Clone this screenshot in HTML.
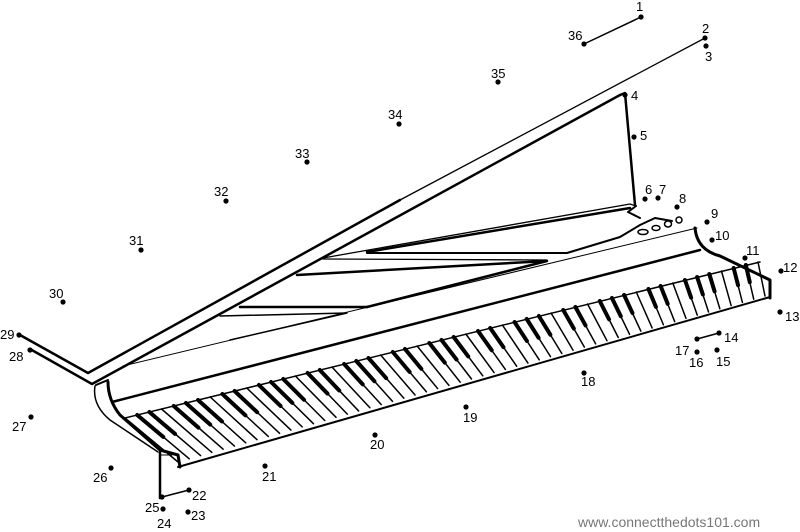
<!DOCTYPE html>
<html><head><meta charset="utf-8"><style>
html,body{margin:0;padding:0;background:#fff;}
svg{display:block}
text{font-family:"Liberation Sans",sans-serif;font-size:13px;fill:#000}
</style></head><body>
<svg id="s" width="800" height="532" viewBox="0 0 800 532" xmlns="http://www.w3.org/2000/svg">
<g fill="none" stroke="#000" stroke-linejoin="round" stroke-linecap="round">
<!-- lid -->
<path d="M20,335 L88,373 L400,200" stroke-width="2.5"/>
<path d="M400,200 L705,38" stroke-width="1.3"/>
<path d="M30,349 L92,384 L620,95" stroke-width="2.5"/>
<path d="M620,95 L625,93 L635,205" stroke-width="2.5"/>
<!-- music stand -->
<path d="M323,258 L630,204 L636,206" stroke-width="1.3"/>
<path d="M367,252 L630,208" stroke-width="2.5"/>
<path d="M367,253 L567,253 L620,237 L640,225 L655,218 L672,221" stroke-width="2"/>
<path d="M636,206 L628,212 L640,218" stroke-width="2"/>
<path d="M323,259 L547,260" stroke-width="1.3"/>
<path d="M297,275 L547,261 L367,307" stroke-width="2.5"/>
<path d="M240,307 L367,307" stroke-width="2.5"/>
<path d="M220,316 L347,313 L230,340" stroke-width="1.5"/>
<path d="M123,366 L697,228" stroke-width="1"/>
<ellipse cx="643" cy="232" rx="5" ry="2.5" stroke-width="1.5"/>
<ellipse cx="656" cy="228" rx="4" ry="2.5" stroke-width="1.5"/>
<ellipse cx="668" cy="224" rx="3.5" ry="3" stroke-width="1.5"/>
<ellipse cx="679" cy="220" rx="3" ry="3" stroke-width="1.5"/>
<!-- body rail -->
<path d="M96,385 L108,380" stroke-width="2"/>
<path d="M112,402 L700,250" stroke-width="2.5"/>
<path d="M125,418 L760,262" stroke-width="1.5"/>
<path d="M695,228 Q697,250 720,256 L770,280 L770,298" stroke-width="3"/>
<path d="M178,467 L770,297" stroke-width="2"/>
<path d="M108,382 Q108,400 120,415 L160,450 L178,455 L180,467" stroke-width="3"/>
<path d="M95,386 Q92,405 110,420 L158,452" stroke-width="1.5"/>
<path d="M160,452 L160,498" stroke-width="2.5"/>
<path d="M160,455 L172,455" stroke-width="1"/>
<g id="keys" stroke-width="1.5"></g>
<!-- dot lines -->
<path d="M584,44 L641,17" stroke-width="1.5"/>
<path d="M697,339 L719,333" stroke-width="1.5"/>
<path d="M162,497 L189,490" stroke-width="1.5"/>
</g>
<g id="dots" fill="#000"></g>
<text x="578" y="527" style="font-size:14px;fill:#777">www.connectthedots101.com</text>
</svg>
<script>
var ns="http://www.w3.org/2000/svg";
var k=document.getElementById("keys"),n=52;
function L(x1,y1,x2,y2,w){var l=document.createElementNS(ns,"line");l.setAttribute("x1",x1);l.setAttribute("y1",y1);l.setAttribute("x2",x2);l.setAttribute("y2",y2);if(w)l.setAttribute("stroke-width",w);k.appendChild(l);}
for(var i=0;i<=n;i++){var t=i/n;
var bx=125+t*(758-125),by=418+t*(262-418);
var fx=178+t*(765-178),fy=462+t*(296-462);
L(bx,by,fx,fy);
var m=i%7; if(i<n && m!=2 && m!=6){var t2=(i+1)/n;
var bx2=125+t2*(758-125),by2=418+t2*(262-418);
var fx2=178+t2*(765-178),fy2=462+t2*(296-462);
L(bx2,by2,bx2+(fx2-bx2)*0.5,by2+(fy2-by2)*0.5,4);}}
var d=[[1,641,17,636,11],[2,705,38,702,33],[3,706,46,705,61],[36,584,44,568,40],[35,498,82,491,78],[4,625,95,631,100],[5,634,137,640,140],[6,645,199,645,194],[7,658,198,659,194],[8,677,207,679,203],[9,707,222,711,218],[10,712,240,715,240],[11,745,258,746,255],[12,781,271,783,272],[13,780,312,785,321],[14,719,333,724,342],[15,717,350,716,366],[16,697,352,689,367],[17,697,339,675,355],[18,584,373,581,386],[19,466,407,463,422],[20,375,435,370,449],[21,265,466,262,481],[22,189,490,192,500],[23,188,512,191,520],[24,163,509,157,528],[25,162,497,145,512],[26,111,468,93,482],[27,31,417,12,431],[28,30,350,9,361],[29,19,335,0,339],[30,63,302,49,298],[31,141,250,129,245],[32,226,201,214,196],[33,307,162,295,158],[34,399,124,388,119]];
var g=document.getElementById("dots");
d.forEach(function(a){var c=document.createElementNS(ns,"circle");c.setAttribute("cx",a[1]);c.setAttribute("cy",a[2]);c.setAttribute("r",2.6);g.appendChild(c);
var t=document.createElementNS(ns,"text");t.setAttribute("x",a[3]);t.setAttribute("y",a[4]);t.textContent=a[0];g.appendChild(t);});
</script>
</body></html>
